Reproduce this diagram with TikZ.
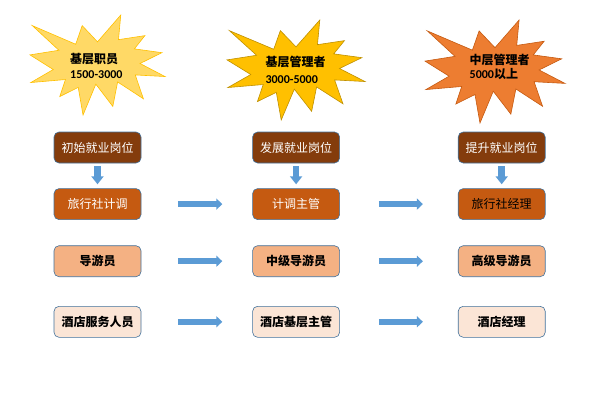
\documentclass[tikz,border=0pt]{standalone}
\usepackage{fontspec}
\usepackage{xcolor}
\usepackage{tikz}
\usetikzlibrary{arrows.meta, positioning}
\newfontfamily\cjk{Noto Sans CJK SC}
\newfontfamily\numfont{Carlito}
\definecolor{deepbrown}{RGB}{132,60,12}
\definecolor{rust}{RGB}{197,90,17}
\definecolor{peach}{RGB}{244,177,131}
\definecolor{cream}{RGB}{251,229,214}
\definecolor{edgeblue}{RGB}{65,113,156}
\definecolor{arrowblue}{RGB}{91,155,213}
\definecolor{palegold}{RGB}{255,217,102}
\definecolor{amber}{RGB}{255,192,0}
\definecolor{darkamber}{RGB}{191,144,0}
\definecolor{tangerine}{RGB}{237,125,49}
\newcommand{\nums}[1]{{\numfont\bfseries #1}}
% explosion outline, unit box 216 x 216
\newcommand{\burstpath}{(108,58) -- (145.22,0) -- (141.55,53.25) -- (183.80,44.57) -- (167.02,73.15) -- (210.97,81.37) -- (176.07,104.75) -- (216,132.90) -- (168.37,129.42) -- (181.45,180.95) -- (140.20,144.57) -- (132.47,197.37) -- (105.32,149.35) -- (84.85,216) -- (77.15,156.27) -- (47.62,176.17) -- (56.67,139.37) -- (1.35,145.87) -- (37.22,117.75) -- (0,86.15) -- (46.27,76.17) -- (3.70,22.95) -- (73.12,63.20) -- (83.52,22.95) -- cycle}

\begin{document}
\begin{tikzpicture}[x=1pt, y=-1pt, node distance=25pt and 111pt,
    box/.style={draw=edgeblue, line width=0.6pt, rounded corners=5pt, minimum width=87pt, minimum height=31pt, inner sep=2pt, font=\cjk\fontsize{12}{14}\selectfont},
    startext/.style={inner sep=0pt, anchor=west, align=left, font=\cjk\bfseries\fontsize{12}{15}\selectfont},
    arr/.style={arrowblue, line width=6pt, -{Triangle[length=6pt, width=11pt]}},
    downarr/.style={arrowblue, line width=6.5pt, -{Triangle[length=8pt, width=12pt]}, shorten <=3pt, shorten >=4pt}]
\useasboundingbox (0,0) rectangle (600,400);

% salary bursts
\begin{scope}[shift={(30,15)}, xscale=0.625, yscale=0.463]
  \draw[fill=palegold, draw=amber, line width=0.6pt] \burstpath;
\end{scope}
\begin{scope}[shift={(227,20)}, xscale=0.639, yscale=0.463]
  \draw[fill=amber, draw=darkamber, line width=0.6pt] \burstpath;
\end{scope}
\begin{scope}[shift={(425,20)}, xscale=0.648, yscale=0.477]
  \draw[fill=tangerine, draw=rust, line width=0.6pt] \burstpath;
\end{scope}
\node[startext] (lvl1) at (70,65.8) {基层职员\\\nums{1500-3000}};
\node[startext] (lvl2) at (265.3,70.3) {基层管理者\\[2pt]\nums{3000-5000}};
\node[startext] (lvl3) at (469.5,67.2) {中层管理者\\[-1pt]\nums{5000}以上};

% career boxes
\node[box, fill=deepbrown, text=white] (entry) at (97.5,147.5) {初始就业岗位};
\node[box, fill=rust, text=white, below=of entry] (agency1) {旅行社计调};
\node[box, fill=peach, font=\cjk\bfseries\fontsize{12}{14}\selectfont, below=25.5pt of agency1] (guide1) {导游员};
\node[box, fill=cream, font=\cjk\bfseries\fontsize{12}{14}\selectfont, below=29pt of guide1] (hotel1) {酒店服务人员};

\node[box, fill=deepbrown, text=white, right=of entry] (dev) {发展就业岗位};
\node[box, fill=rust, text=white, right=of agency1] (agency2) {计调主管};
\node[box, fill=peach, font=\cjk\bfseries\fontsize{12}{14}\selectfont, right=of guide1] (guide2) {中级导游员};
\node[box, fill=cream, font=\cjk\bfseries\fontsize{12}{14}\selectfont, right=of hotel1] (hotel2) {酒店基层主管};

\node[box, fill=deepbrown, text=white, right=118pt of dev] (promo) {提升就业岗位};
\node[box, fill=rust, right=118pt of agency2] (agency3) {旅行社经理};
\node[box, fill=peach, font=\cjk\bfseries\fontsize{12}{14}\selectfont, right=118pt of guide2] (guide3) {高级导游员};
\node[box, fill=cream, font=\cjk\bfseries\fontsize{12}{14}\selectfont, right=118pt of hotel2] (hotel3) {酒店经理};

% arrows
\foreach \a/\b in {entry/agency1, dev/agency2, promo/agency3}
  \draw[downarr] (\a) -- (\b);
\foreach \r in {agency, guide, hotel} {
  \draw[arr, shorten <=36.5pt, shorten >=30pt] (\r1) -- (\r2);
  \draw[arr, shorten <=39pt, shorten >=35pt] (\r2) -- (\r3);
}
\end{tikzpicture}
\end{document}
